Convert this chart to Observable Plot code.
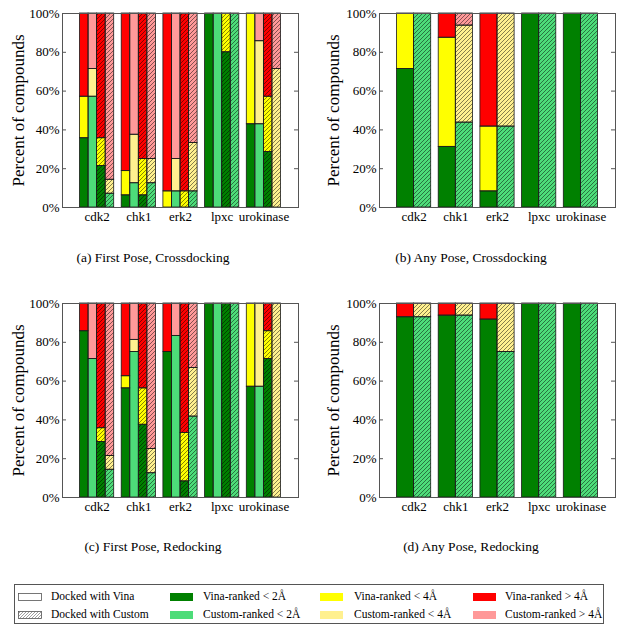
<!DOCTYPE html>
<html>
<head>
<meta charset="utf-8">
<script src="https://cdn.jsdelivr.net/npm/d3@7"></script>
<script src="https://cdn.jsdelivr.net/npm/@observablehq/plot@0.6"></script>
<style>
  body { margin: 0; background: #fff; }
  #root { position: relative; width: 624px; height: 632px; font-family: "Liberation Serif", "DejaVu Serif", serif; color: #000; }
  .panel { position: absolute; }
  .cap { position: absolute; width: 300px; text-align: center; font-size: 13.5px; line-height: 16px; }
  .legbox { position: absolute; left: 14px; top: 584px; width: 590px; height: 40px; border: 1px solid #555; box-sizing: border-box; }
  .sw { position: absolute; width: 23px; height: 7px; }
  .lt { position: absolute; font-size: 11.5px; line-height: 14px; white-space: nowrap; }
</style>
</head>
<body>
<div id="root">
<svg width="0" height="0" style="position:absolute">
  <defs>
    <pattern id="hatch" patternUnits="userSpaceOnUse" width="4" height="4">
      <path d="M-1,1 l2,-2 M0,4 l4,-4 M3,5 l2,-2" stroke="#000" stroke-opacity="0.6" stroke-width="0.8"/>
    </pattern>
    <pattern id="hatchGray" patternUnits="userSpaceOnUse" width="3" height="3">
      <path d="M-1,1 l2,-2 M0,3 l3,-3 M2,4 l2,-2" stroke="#777" stroke-width="0.7"/>
    </pattern>
  </defs>
</svg>
</div>
<script>
// ---- Data (cumulative % : [< 2Å, < 4Å]; remainder is > 4Å) ----
const targets = ["cdk2", "chk1", "erk2", "lpxc", "urokinase"];
const yTicks = [0, 20, 40, 60, 80, 100];

// (a) First Pose, Crossdocking
const aVinaDockVinaRank     = [[35.7, 57.1], [6.25, 18.75], [0, 8.3], [100, 100], [42.9, 100]];
const aVinaDockCustomRank   = [[57.1, 71.4], [12.5, 37.5], [8.3, 25], [100, 100], [42.9, 85.7]];
const aCustomDockVinaRank   = [[21.4, 35.7], [6.25, 25], [0, 8.3], [80, 100], [28.6, 57.1]];
const aCustomDockCustomRank = [[7.1, 14.3], [12.5, 25], [8.3, 33.3], [100, 100], [0, 71.4]];

// (b) Any Pose, Crossdocking
const bVina   = [[71.4, 100], [31.25, 87.5], [8.3, 41.7], [100, 100], [100, 100]];
const bCustom = [[100, 100], [43.75, 93.75], [41.7, 100], [100, 100], [100, 100]];

// (c) First Pose, Redocking
const cVinaDockVinaRank     = [[85.7, 85.7], [56.25, 62.5], [75, 75], [100, 100], [57.1, 100]];
const cVinaDockCustomRank   = [[71.4, 71.4], [75, 81.25], [83.3, 83.3], [100, 100], [57.1, 100]];
const cCustomDockVinaRank   = [[28.6, 35.7], [37.5, 56.25], [8.3, 33.3], [100, 100], [71.4, 85.7]];
const cCustomDockCustomRank = [[14.3, 21.4], [12.5, 25], [41.7, 66.7], [100, 100], [0, 100]];

// (d) Any Pose, Redocking
const dVina   = [[92.9, 92.9], [93.75, 93.75], [91.7, 91.7], [100, 100], [100, 100]];
const dCustom = [[92.9, 100], [93.75, 100], [75, 100], [100, 100], [100, 100]];

const captions = ["(a) First Pose, Crossdocking", "(b) Any Pose, Crossdocking", "(c) First Pose, Redocking", "(d) Any Pose, Redocking"];
const legendLabels = ["Docked with Vina", "Docked with Custom", "Vina-ranked < 2Å", "Custom-ranked < 2Å", "Vina-ranked < 4Å", "Custom-ranked < 4Å", "Vina-ranked > 4Å", "Custom-ranked > 4Å"];

// ---- Styles ----
const vinaColors = ["#008000", "#ffff00", "#ff0000"];
const customColors = ["#4ddc79", "#fff08f", "#ff9999"];
const FONT = '"Liberation Serif", "DejaVu Serif", serif';
const groupW = 0.82;
const xDomain = [-0.83, 4.83];

function panel(series, {marginLeft, marginRight, titleDx}) {
  const rows = [];
  const nb = series.length;
  series.forEach((s, j) => {
    const pal = s.customRank ? customColors : vinaColors;
    s.values.forEach(([g, y], i) => {
      const x1 = i - groupW / 2 + j * groupW / nb;
      const x2 = x1 + groupW / nb;
      [[0, g, pal[0]], [g, y, pal[1]], [y, 100, pal[2]]].forEach(([lo, hi, c]) => {
        if (hi > lo) rows.push({x1, x2, lo, hi, c, hatched: s.hatched});
      });
    });
  });
  const width = 312, height = 235, marginTop = 13, marginBottom = 28;
  const fw = width - marginLeft - marginRight;
  return Plot.plot({
    width, height, marginLeft, marginRight, marginTop, marginBottom,
    x: {domain: xDomain},
    y: {domain: [0, 100]},
    color: {type: "identity"},
    style: {fontFamily: FONT, fontSize: "13px", background: "transparent", color: "#000"},
    marks: [
      Plot.rect(rows, {x1: "x1", x2: "x2", y1: "lo", y2: "hi", fill: "c"}),
      Plot.rect(rows.filter(d => d.hatched), {x1: "x1", x2: "x2", y1: "lo", y2: "hi", fill: "url(#hatch)"}),
      Plot.rect(rows, {x1: "x1", x2: "x2", y1: "lo", y2: "hi", fill: "none", stroke: "#1a1a1a", strokeWidth: 0.8}),
      Plot.frame({stroke: "#555"}),
      Plot.tickY(yTicks, {y: d => d, stroke: "#555", insetRight: fw - 4}),
      Plot.tickY(yTicks, {y: d => d, stroke: "#555", insetLeft: fw - 4}),
      Plot.axisY({ticks: yTicks, tickFormat: d => d + "%", tickSize: 0, tickPadding: 3, fontSize: 13, label: null}),
      Plot.axisX({ticks: d3.range(targets.length), tickFormat: i => targets[i], tickSize: 0, tickPadding: 4, fontSize: 13, label: null}),
      Plot.text(["Percent of compounds"], {text: d => d, frameAnchor: "left", rotate: -90, dx: titleDx, fontSize: 17, textAnchor: "middle"})
    ]
  });
}

const root = document.getElementById("root");
function place(el, left, top) {
  const div = document.createElement("div");
  div.className = "panel";
  div.style.left = left + "px";
  div.style.top = top + "px";
  div.appendChild(el);
  root.appendChild(div);
}

const leftOpts = {marginLeft: 62, marginRight: 14, titleDx: -44};
const rightOpts = {marginLeft: 67, marginRight: 9, titleDx: -46};

place(panel([
  {values: aVinaDockVinaRank, customRank: false, hatched: false},
  {values: aVinaDockCustomRank, customRank: true, hatched: false},
  {values: aCustomDockVinaRank, customRank: false, hatched: true},
  {values: aCustomDockCustomRank, customRank: true, hatched: true}
], leftOpts), 0, 0);
place(panel([
  {values: bVina, customRank: false, hatched: false},
  {values: bCustom, customRank: true, hatched: true}
], rightOpts), 312, 0);
place(panel([
  {values: cVinaDockVinaRank, customRank: false, hatched: false},
  {values: cVinaDockCustomRank, customRank: true, hatched: false},
  {values: cCustomDockVinaRank, customRank: false, hatched: true},
  {values: cCustomDockCustomRank, customRank: true, hatched: true}
], leftOpts), 0, 290);
place(panel([
  {values: dVina, customRank: false, hatched: false},
  {values: dCustom, customRank: true, hatched: true}
], rightOpts), 312, 290);

// captions
[[3, 250], [321, 250], [3, 539], [321, 539]].forEach(([l, t], k) => {
  const d = document.createElement("div");
  d.className = "cap";
  d.style.left = l + "px"; d.style.top = t + "px";
  d.textContent = captions[k];
  root.appendChild(d);
});

// legend
const box = document.createElement("div");
box.className = "legbox";
root.appendChild(box);
const swFills = ["#fff", "url(#hatchGray)", vinaColors[0], customColors[0], vinaColors[1], customColors[1], vinaColors[2], customColors[2]];
const colX = [18, 170, 320, 473];
const textX = [51, 203, 354, 505];
const rowSwY = [593, 611];
const rowTxtY = [589, 607];
legendLabels.forEach((lab, k) => {
  const col = Math.floor(k / 2), row = k % 2;
  const ns = "http://www.w3.org/2000/svg";
  const svg = document.createElementNS(ns, "svg");
  svg.setAttribute("width", 24); svg.setAttribute("height", 8);
  svg.style.position = "absolute";
  svg.style.left = colX[col] + "px"; svg.style.top = rowSwY[row] + "px";
  const r = document.createElementNS(ns, "rect");
  if (col === 0) {
    r.setAttribute("x", 0.5); r.setAttribute("y", 0.5); r.setAttribute("width", 23); r.setAttribute("height", 7);
    r.setAttribute("stroke", "#555"); r.setAttribute("stroke-width", 0.8);
  } else {
    r.setAttribute("x", 0); r.setAttribute("y", 0); r.setAttribute("width", 23); r.setAttribute("height", 8);
  }
  r.setAttribute("fill", swFills[k]);
  svg.appendChild(r);
  root.appendChild(svg);
  const t = document.createElement("div");
  t.className = "lt";
  t.style.left = textX[col] + "px"; t.style.top = rowTxtY[row] + "px";
  t.textContent = lab;
  root.appendChild(t);
});
</script>
</body>
</html>
